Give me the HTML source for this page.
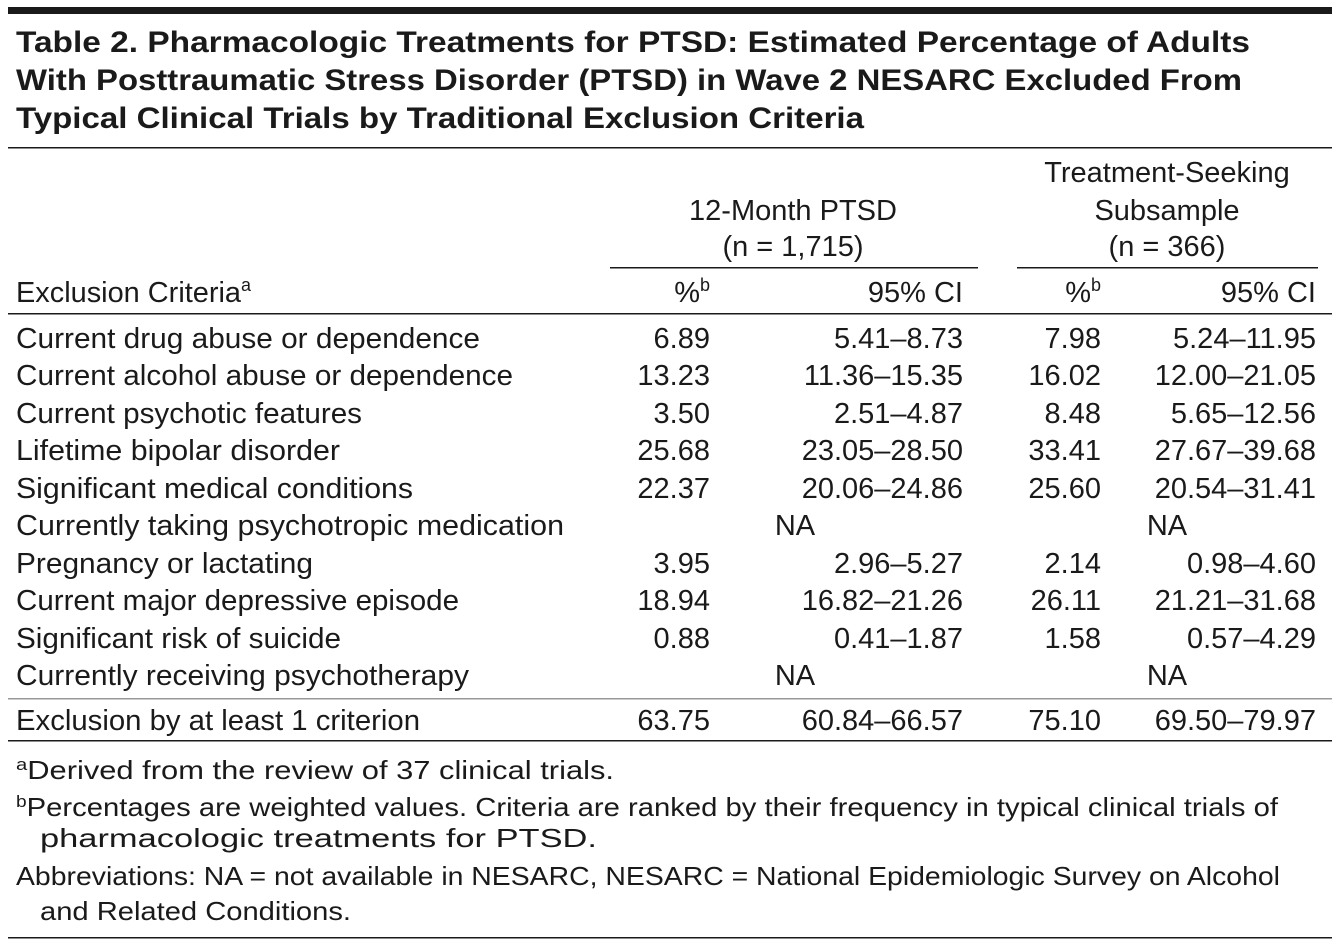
<!DOCTYPE html>
<html><head><meta charset="utf-8"><style>
html,body{margin:0;padding:0;background:#fff}
svg{display:block}
text{font-family:"Liberation Sans",sans-serif;fill:#1a1a1a}
.t{font-weight:bold;font-size:30px}
.b{font-size:29px}
.f{font-size:26px}
</style></head><body>
<svg width="1340" height="948" viewBox="0 0 1340 948" xmlns="http://www.w3.org/2000/svg">
<rect x="8" y="7" width="1324" height="7" fill="#1a1a1a"/>
<text class="t" x="16" y="52" textLength="1234" lengthAdjust="spacingAndGlyphs">Table 2. Pharmacologic Treatments for PTSD: Estimated Percentage of Adults</text>
<text class="t" x="16" y="90" textLength="1226" lengthAdjust="spacingAndGlyphs">With Posttraumatic Stress Disorder (PTSD) in Wave 2 NESARC Excluded From</text>
<text class="t" x="16" y="128" textLength="848" lengthAdjust="spacingAndGlyphs">Typical Clinical Trials by Traditional Exclusion Criteria</text>
<rect x="8" y="147" width="1324" height="1.5" fill="#1a1a1a"/>
<g class="b" text-anchor="middle">
<text x="1167" y="182">Treatment-Seeking</text>
<text x="1167" y="220">Subsample</text>
<text x="1167" y="256">(n = 366)</text>
<text x="793" y="220">12-Month PTSD</text>
<text x="793" y="256">(n = 1,715)</text>
</g>
<rect x="610" y="267" width="368" height="1.5" fill="#1a1a1a"/>
<rect x="1017" y="267" width="301" height="1.5" fill="#1a1a1a"/>
<text class="b" x="16" y="302" textLength="235" lengthAdjust="spacingAndGlyphs">Exclusion Criteria<tspan font-size="18" dy="-11">a</tspan></text>
<text class="b" x="710" y="302" text-anchor="end">%<tspan font-size="18" dy="-11">b</tspan></text>
<text class="b" x="963" y="302" text-anchor="end">95% CI</text>
<text class="b" x="1101" y="302" text-anchor="end">%<tspan font-size="18" dy="-11">b</tspan></text>
<text class="b" x="1316" y="302" text-anchor="end">95% CI</text>
<rect x="8" y="313" width="1324" height="1.5" fill="#1a1a1a"/>
<g class="b">
<text x="16" y="348" textLength="464" lengthAdjust="spacingAndGlyphs">Current drug abuse or dependence</text>
<text x="16" y="385" textLength="497" lengthAdjust="spacingAndGlyphs">Current alcohol abuse or dependence</text>
<text x="16" y="423" textLength="346" lengthAdjust="spacingAndGlyphs">Current psychotic features</text>
<text x="16" y="460" textLength="324" lengthAdjust="spacingAndGlyphs">Lifetime bipolar disorder</text>
<text x="16" y="498" textLength="397" lengthAdjust="spacingAndGlyphs">Significant medical conditions</text>
<text x="16" y="535" textLength="548" lengthAdjust="spacingAndGlyphs">Currently taking psychotropic medication</text>
<text x="16" y="573" textLength="297" lengthAdjust="spacingAndGlyphs">Pregnancy or lactating</text>
<text x="16" y="610" textLength="443" lengthAdjust="spacingAndGlyphs">Current major depressive episode</text>
<text x="16" y="648" textLength="325" lengthAdjust="spacingAndGlyphs">Significant risk of suicide</text>
<text x="16" y="685" textLength="453" lengthAdjust="spacingAndGlyphs">Currently receiving psychotherapy</text>
<text x="16" y="730" textLength="404" lengthAdjust="spacingAndGlyphs">Exclusion by at least 1 criterion</text>
</g>
<g class="b" text-anchor="end">
<text x="710" y="348">6.89</text><text x="963" y="348">5.41–8.73</text><text x="1101" y="348">7.98</text><text x="1316" y="348">5.24–11.95</text>
<text x="710" y="385">13.23</text><text x="963" y="385">11.36–15.35</text><text x="1101" y="385">16.02</text><text x="1316" y="385">12.00–21.05</text>
<text x="710" y="423">3.50</text><text x="963" y="423">2.51–4.87</text><text x="1101" y="423">8.48</text><text x="1316" y="423">5.65–12.56</text>
<text x="710" y="460">25.68</text><text x="963" y="460">23.05–28.50</text><text x="1101" y="460">33.41</text><text x="1316" y="460">27.67–39.68</text>
<text x="710" y="498">22.37</text><text x="963" y="498">20.06–24.86</text><text x="1101" y="498">25.60</text><text x="1316" y="498">20.54–31.41</text>
<text x="710" y="573">3.95</text><text x="963" y="573">2.96–5.27</text><text x="1101" y="573">2.14</text><text x="1316" y="573">0.98–4.60</text>
<text x="710" y="610">18.94</text><text x="963" y="610">16.82–21.26</text><text x="1101" y="610">26.11</text><text x="1316" y="610">21.21–31.68</text>
<text x="710" y="648">0.88</text><text x="963" y="648">0.41–1.87</text><text x="1101" y="648">1.58</text><text x="1316" y="648">0.57–4.29</text>
<text x="710" y="730">63.75</text><text x="963" y="730">60.84–66.57</text><text x="1101" y="730">75.10</text><text x="1316" y="730">69.50–79.97</text>
</g>
<g class="b" text-anchor="middle">
<text x="795" y="535">NA</text><text x="1167" y="535">NA</text>
<text x="795" y="685">NA</text><text x="1167" y="685">NA</text>
</g>
<rect x="8" y="698" width="1324" height="1.5" fill="#999"/>
<rect x="8" y="740" width="1324" height="1.5" fill="#1a1a1a"/>
<g class="f">
<text x="16" y="779" textLength="598" lengthAdjust="spacingAndGlyphs"><tspan font-size="17" dy="-9">a</tspan><tspan dy="9">Derived from the review of 37 clinical trials.</tspan></text>
<text x="16" y="816" textLength="1262" lengthAdjust="spacingAndGlyphs"><tspan font-size="17" dy="-9">b</tspan><tspan dy="9">Percentages are weighted values. Criteria are ranked by their frequency in typical clinical trials of</tspan></text>
<text x="40" y="847" textLength="557" lengthAdjust="spacingAndGlyphs">pharmacologic treatments for PTSD.</text>
<text x="16" y="885" textLength="1264" lengthAdjust="spacingAndGlyphs">Abbreviations: NA = not available in NESARC, NESARC = National Epidemiologic Survey on Alcohol</text>
<text x="40" y="920" textLength="311" lengthAdjust="spacingAndGlyphs">and Related Conditions.</text>
</g>
<rect x="8" y="937" width="1324" height="1.5" fill="#1a1a1a"/>
</svg>
</body></html>
